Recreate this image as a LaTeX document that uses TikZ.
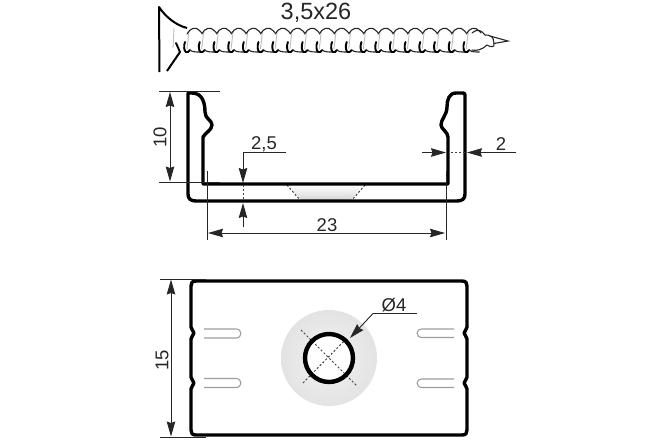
\documentclass[tikz,border=0pt]{standalone}
\usepackage{fontspec}
\setmainfont{Liberation Sans}
\usetikzlibrary{arrows.meta,shadings}
\definecolor{dimc}{gray}{0.15}
\definecolor{threadgrey}{gray}{0.75}
\definecolor{slotgrey}{gray}{0.62}
\tikzset{
  profile/.style={draw=black,line width=3.4pt,line join=round},
  dimline/.style={draw=dimc,line width=0.9pt},
  extline/.style={draw=dimc,line width=0.8pt},
  dimarrow/.style={dimline,{Stealth[length=15pt,width=8.5pt,inset=1.5pt]}-{Stealth[length=15pt,width=8.5pt,inset=1.5pt]}},
  endarrow/.style={dimline,-{Stealth[length=15pt,width=8.5pt,inset=1.5pt]}},
  dots/.style={draw=black!75,line width=1pt,dash pattern=on 2pt off 2pt},
  slot/.style={draw=slotgrey,line width=1.1pt},
  lbl/.style={font=\fontsize{18.5pt}{20pt}\selectfont,text=black!85,inner sep=0pt},
  biglbl/.style={font=\fontsize{23.5pt}{25pt}\selectfont,text=black!85,inner sep=0pt},
  screwline/.style={draw=black!85,line width=1.1pt,line cap=round},
  screwhook/.style={draw=black,line width=1.9pt,line cap=round},
  screwgrey/.style={draw=threadgrey,line width=0.9pt}
}
\begin{document}
\begin{tikzpicture}[x=1pt,y=-1pt]
\useasboundingbox (0,0) rectangle (672,440);
\fill[white] (0,0) rectangle (672,440);
% --- screw head
\draw[black,line width=2pt] (167,71) -- (180,52);
\draw[black,line width=2pt,line join=round] (159.5,72) -- (159,7) .. controls (165,16) and (175,25) .. (187,28);
\draw[screwgrey] (174,28) -- (173,48);
% --- thread
\foreach \i in {0,...,19}{
  \pgfmathsetmacro{\xx}{178+14.7*\i}
  \begin{scope}[shift={(\xx,0)}]
    \draw[screwgrey] (11,31) -- (9,49);
    \draw[screwline] (9,34) .. controls (12,28) and (18,26) .. (22,31) .. controls (23,32) and (23.7,33) .. (23.7,33);
    \draw[screwhook] (7,42) .. controls (5.5,46) and (6,51) .. (8,52) .. controls (9,52.5) and (11,52) .. (12,50);
    \draw[screwline] (12,50) .. controls (14,52) and (18,52) .. (22,52);
  \end{scope}
}
\draw[screwline] (472,33) .. controls (478,28) and (482,31) .. (485,35) .. controls (487,36) and (489,34) .. (490,36) -- (508,41) -- (494,43.5) .. controls (495,48) and (490,47) .. (487,45) .. controls (482,50) and (476,51) .. (472,50);
\draw[screwline] (490,36) .. controls (494,37) and (493,40) .. (494,43.5);
\draw[screwhook] (180,52) -- (176,43);
% --- profile: countersink
\shade[top color=white,bottom color=black!16] (288,185) -- (301,200) -- (351,200) -- (364,185) -- cycle;
\draw[dots] (287,185) -- (300,200);
\draw[dots] (365,185) -- (352,200);
% --- profile outline
\draw[profile] (204,184) -- (203,184) -- (203,137)
  .. controls (205,133) and (212,130) .. (212,125)
  .. controls (212,120) and (205,119) .. (205,112)
  .. controls (205,104) and (203,93) .. (192,93)
  -- (188,93) -- (188,194) .. controls (188,199) and (191,201) .. (196,201)
  -- (457,201) .. controls (462,201) and (465,199) .. (465,194)
  -- (465,95) .. controls (465,93) and (464,93) .. (462,93)
  -- (456,93) .. controls (449,93) and (447,100) .. (447,107)
  .. controls (447,115) and (441,119) .. (441,125)
  .. controls (441,129) and (448,132) .. (448,137)
  -- (448,184) -- (204,184);
% --- dimension 10
\coordinate (t1) at (159,91.5); \coordinate (t2) at (220,91.5);
\coordinate (b1) at (159,182); \coordinate (b2) at (220,182);
\draw[extline] (t1) -- (t2);
\draw[extline] (b1) -- (b2);
\coordinate (a10t) at (170,92); \coordinate (a10b) at (170,181.5);
\draw[dimarrow] (a10t) -- (a10b);
\node[lbl,rotate=90] (l10) at (160,137) {10};
% --- dimension 2,5
\coordinate (c25a) at (286,152.5); \coordinate (c25b) at (243,152.5); \coordinate (c25c) at (243,183);
\draw[dimline] (c25a) -- (c25b);
\draw[endarrow] (c25b) -- (c25c);
\draw[dots] (243,185) -- (243,201);
\coordinate (c25d) at (243,227); \coordinate (c25e) at (243,203);
\draw[endarrow] (c25d) -- (c25e);
\node[lbl] (l25) at (264,144) {2,5};
% --- dimension 23
\draw[extline] (207,171) -- (207,240);
\draw[extline] (446,171) -- (446,240);
\coordinate (a23l) at (208,233); \coordinate (a23r) at (445,233);
\draw[dimarrow] (a23l) -- (a23r);
\node[lbl] (l23) at (327,225) {23};
% --- dimension 2
\coordinate (c2a) at (422,152.5); \coordinate (c2b) at (446,152.5);
\coordinate (c2c) at (516,152.5); \coordinate (c2d) at (467,152.5);
\draw[endarrow] (c2a) -- (c2b);
\draw[endarrow] (c2c) -- (c2d);
\draw[dots] (451,152.5) -- (465,152.5);
\node[lbl] (l2) at (501,144) {2};
% --- plan view
\shade[inner color=black!5,outer color=black!11] (329,358) circle (48);
\fill[white] (329,358) circle (24);
\draw[profile] (196,281) -- (462,281) .. controls (466,281) and (467,283) .. (467,286)
  -- (467,327) .. controls (467,330) and (464,331) .. (464,333) .. controls (464,335) and (467,336) .. (467,339)
  -- (467,377) .. controls (467,380) and (464,381) .. (464,383) .. controls (464,385) and (467,386) .. (467,389)
  -- (467,430) .. controls (467,433) and (466,435) .. (462,435)
  -- (196,435) .. controls (192,435) and (191,433) .. (191,430)
  -- (191,389) .. controls (191,386) and (194,385) .. (194,383) .. controls (194,381) and (191,380) .. (191,377)
  -- (191,339) .. controls (191,336) and (194,335) .. (194,333) .. controls (194,331) and (191,330) .. (191,327)
  -- (191,286) .. controls (191,283) and (192,281) .. (196,281) -- cycle;
\draw[slot] (204,329) -- (236,329) .. controls (242.5,329) and (242.5,338) .. (236,338) -- (204,338);
\draw[slot] (204,378.5) -- (236,378.5) .. controls (242.5,378.5) and (242.5,387.5) .. (236,387.5) -- (204,387.5);
\draw[slot] (454,329) -- (422,329) .. controls (415.5,329) and (415.5,337.5) .. (422,337.5) -- (454,337.5);
\draw[slot] (454,379) -- (422,379) .. controls (415.5,379) and (415.5,387.5) .. (422,387.5) -- (454,387.5);
\draw[dots] (301,330) -- (357,386);
\draw[dots] (303,383) -- (347,338);
\draw[draw=black,line width=4.4pt] (329,358) circle (24);
% --- dimension 15
\draw[extline] (160,279) -- (206,279);
\draw[extline] (160,437) -- (206,437);
\coordinate (a15t) at (171,279.5); \coordinate (a15b) at (171,436.5);
\draw[dimarrow] (a15t) -- (a15b);
\node[lbl,rotate=90] (l15) at (162,360) {15};
% --- hole label
\coordinate (c4a) at (417,313.5); \coordinate (c4b) at (373,313.5); \coordinate (c4c) at (350,338);
\draw[dimline] (c4a) -- (c4b);
\draw[endarrow] (c4b) -- (c4c);
\node[lbl] (l4) at (394,305) {Ø4};
% --- screw label
\node[biglbl] (l35) at (316,13) {3,5x26};
\end{tikzpicture}
\end{document}
